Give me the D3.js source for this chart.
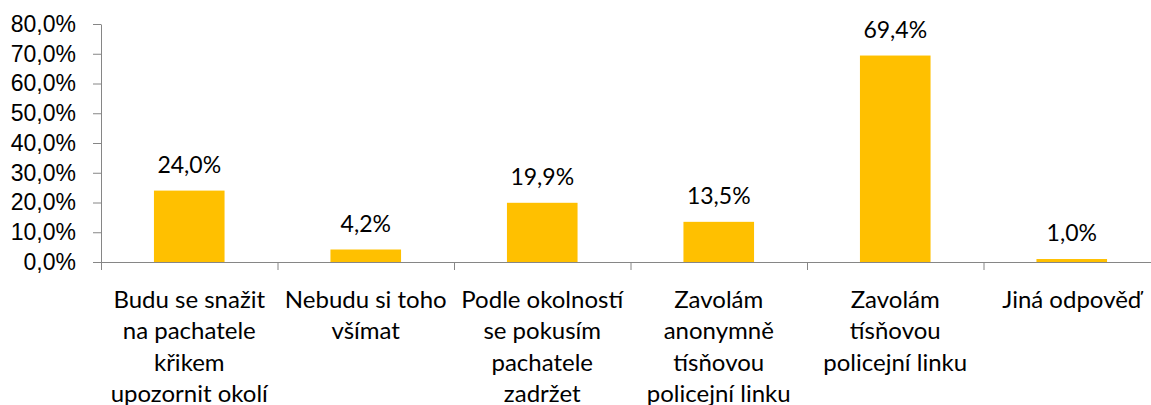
<!DOCTYPE html>
<html>
<head>
<meta charset="utf-8">
<script src="https://cdn.jsdelivr.net/npm/d3@7"></script>
<style>
  body { margin: 0; background: #fff; }
  svg { display: block; font-family: Lato, "Open Sans", sans-serif; }
</style>
</head>
<body>
<div id="chart"></div>
<script>
const categories = [
  ["Budu se snažit", "na pachatele", "křikem", "upozornit okolí"],
  ["Nebudu si toho", "všímat"],
  ["Podle okolností", "se pokusím", "pachatele", "zadržet"],
  ["Zavolám", "anonymně", "tísňovou", "policejní linku"],
  ["Zavolám", "tísňovou", "policejní linku"],
  ["Jiná odpověď"]
];
const values = [0.240, 0.042, 0.199, 0.135, 0.694, 0.010];
const yTicks = [0, 0.1, 0.2, 0.3, 0.4, 0.5, 0.6, 0.7, 0.8];

const width = 1151, height = 405;
const margin = { top: 24, left: 101, bottomAxis: 262, right: 1160 };

const cz = d3.formatLocale({ decimal: ",", thousands: " ", grouping: [3], currency: ["", " Kč"] });
const pct = cz.format(".1%");

const svg = d3.select("#chart").append("svg")
  .attr("width", width)
  .attr("height", height);

const idx = d3.range(values.length);
const x = d3.scaleBand()
  .domain(idx)
  .range([margin.left, margin.right])
  .paddingInner(0.6)
  .paddingOuter(0.3);

const xEdges = d3.scaleLinear()
  .domain([0, values.length])
  .range([margin.left, margin.right]);

const y = d3.scaleLinear()
  .domain([0, 0.8])
  .range([margin.bottomAxis, margin.top]);

// y axis
const yAxisG = svg.append("g")
  .attr("transform", `translate(${margin.left},0)`)
  .call(d3.axisLeft(y).tickValues(yTicks).tickFormat(pct).tickSize(8).tickPadding(17).tickSizeOuter(0));
yAxisG.select(".domain").attr("stroke", "#868686");
yAxisG.selectAll(".tick line").attr("stroke", "#868686");
yAxisG.selectAll("text")
  .attr("fill", "#000")
  .attr("font-size", "23px");

// bars
svg.selectAll("rect.bar")
  .data(values)
  .join("rect")
  .attr("class", "bar")
  .attr("x", (d, i) => x(i))
  .attr("y", d => y(d))
  .attr("width", x.bandwidth())
  .attr("height", d => y(0) - y(d))
  .attr("fill", "#FFC000");

// value labels
svg.selectAll("text.val")
  .data(values)
  .join("text")
  .attr("class", "val")
  .attr("x", (d, i) => x(i) + x.bandwidth() / 2)
  .attr("y", d => y(d) - 18)
  .attr("text-anchor", "middle")
  .attr("font-size", "23px")
  .attr("fill", "#000")
  .text(d => pct(d));

// x axis with ticks at category boundaries
const xAxisG = svg.append("g")
  .attr("transform", `translate(0,${margin.bottomAxis})`)
  .call(d3.axisBottom(xEdges).tickValues(d3.range(values.length + 1)).tickFormat("").tickSize(8).tickSizeOuter(0));
xAxisG.select(".domain").attr("stroke", "#868686");
xAxisG.selectAll(".tick line").attr("stroke", "#868686");

// category labels
const catG = svg.selectAll("text.cat")
  .data(categories)
  .join("text")
  .attr("class", "cat")
  .attr("text-anchor", "middle")
  .attr("font-size", "24px")
  .attr("fill", "#000");
catG.each(function(lines, i) {
  const cx = x(i) + x.bandwidth() / 2;
  d3.select(this).selectAll("tspan")
    .data(lines)
    .join("tspan")
    .attr("x", cx)
    .attr("y", (l, j) => 307.5 + j * 31.6)
    .text(l => l);
});
</script>
</body>
</html>
